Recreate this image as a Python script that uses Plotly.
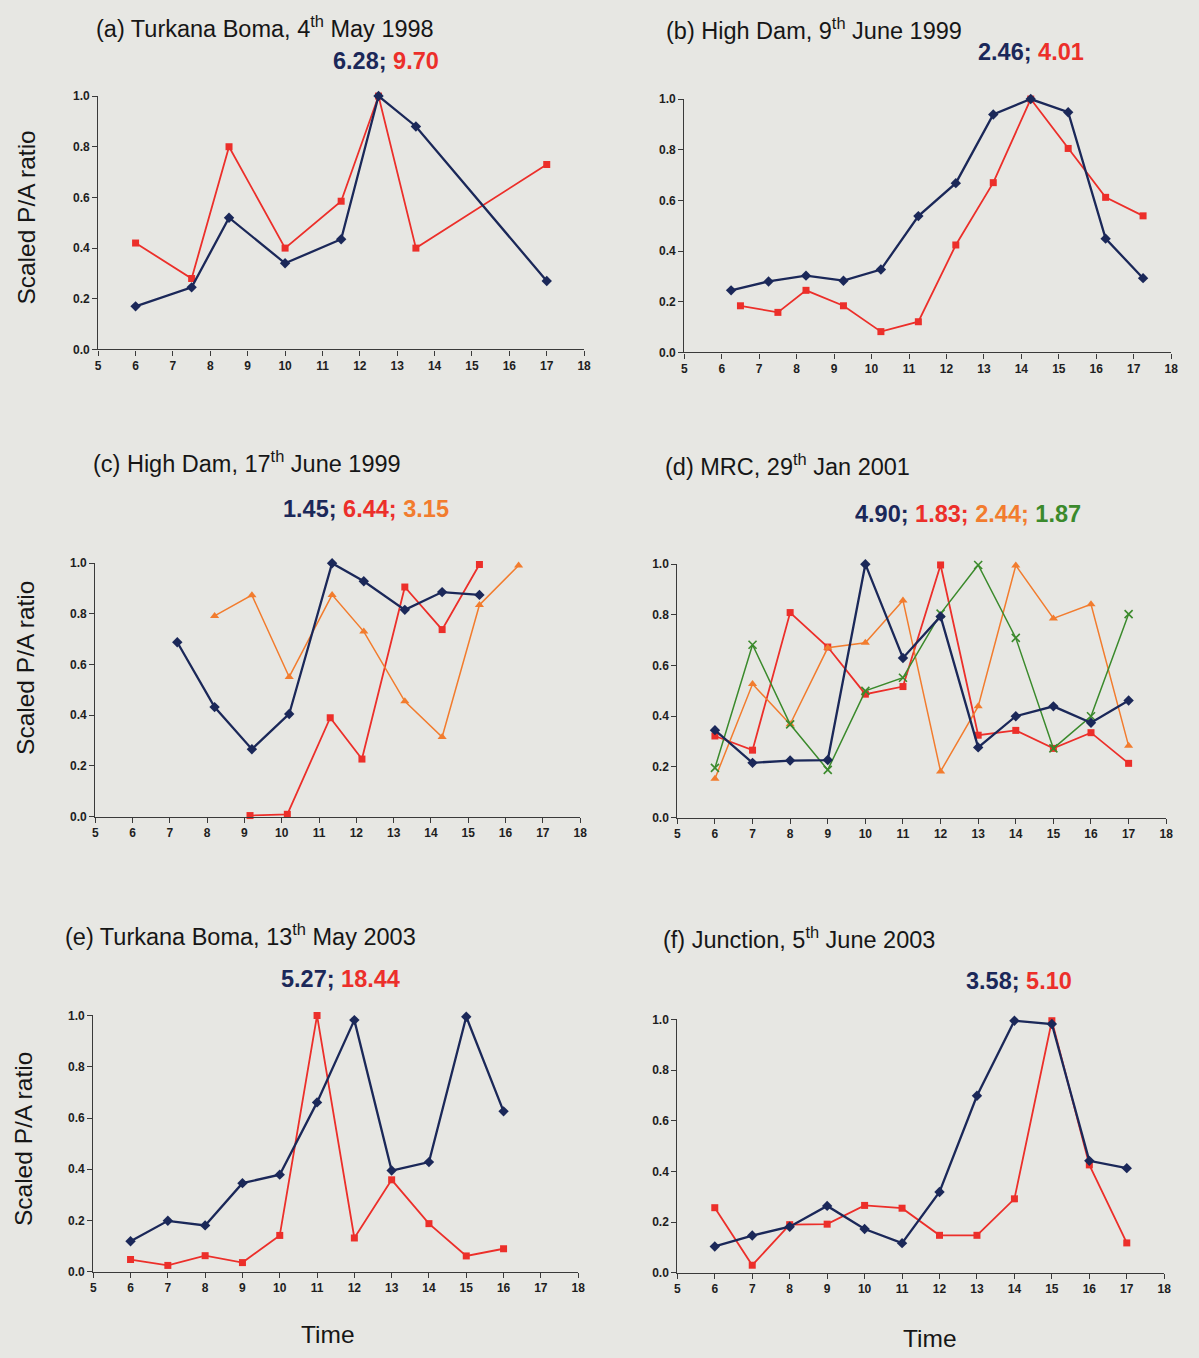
import plotly.graph_objects as go

W, H = 1199, 1358

# ---- (a) Turkana Boma, 4th May 1998 ----
a_time_blue = [6, 7.5, 8.5, 10, 11.5, 12.5, 13.5, 17]
a_blue = [0.17, 0.245, 0.52, 0.34, 0.435, 1.0, 0.88, 0.27]
a_time_red = [6, 7.5, 8.5, 10, 11.5, 12.5, 13.5, 17]
a_red = [0.42, 0.28, 0.80, 0.40, 0.585, 1.0, 0.40, 0.73]

# ---- (b) High Dam, 9th June 1999 ----
b_time_blue = [6.25, 7.25, 8.25, 9.25, 10.25, 11.25, 12.25, 13.25, 14.25, 15.25, 16.25, 17.25]
b_blue = [0.245, 0.28, 0.303, 0.283, 0.327, 0.538, 0.668, 0.939, 1.0, 0.948, 0.449, 0.293]
b_time_red = [6.5, 7.5, 8.25, 9.25, 10.25, 11.25, 12.25, 13.25, 14.25, 15.25, 16.25, 17.25]
b_red = [0.184, 0.158, 0.245, 0.184, 0.082, 0.121, 0.424, 0.67, 1.0, 0.805, 0.612, 0.539]

# ---- (c) High Dam, 17th June 1999 ----
c_time_blue = [7.2, 8.2, 9.2, 10.2, 11.35, 12.2, 13.3, 14.3, 15.3]
c_blue = [0.688, 0.432, 0.266, 0.405, 1.0, 0.929, 0.816, 0.886, 0.875]
c_time_red = [9.15, 10.15, 11.3, 12.15, 13.3, 14.3, 15.3]
c_red = [0.004, 0.009, 0.39, 0.227, 0.906, 0.738, 0.995]
c_time_orange = [8.2, 9.2, 10.2, 11.35, 12.2, 13.3, 14.3, 15.3, 16.35]
c_orange = [0.792, 0.874, 0.551, 0.875, 0.730, 0.455, 0.314, 0.835, 0.991]

# ---- (d) MRC, 29th Jan 2001 ----
d_time = [6, 7, 8, 9, 10, 11, 12, 13, 14, 15, 16, 17]
d_blue = [0.345, 0.216, 0.225, 0.227, 1.0, 0.630, 0.794, 0.277, 0.40, 0.439, 0.374, 0.462]
d_red = [0.322, 0.266, 0.809, 0.673, 0.487, 0.517, 0.997, 0.325, 0.344, 0.273, 0.335, 0.214]
d_orange = [0.153, 0.527, 0.368, 0.670, 0.690, 0.857, 0.182, 0.439, 0.995, 0.786, 0.842, 0.283]
d_green = [0.196, 0.682, 0.368, 0.188, 0.50, 0.552, 0.805, 0.997, 0.709, 0.273, 0.40, 0.803]

# ---- (e) Turkana Boma, 13th May 2003 ----
e_time = [6, 7, 8, 9, 10, 11, 12, 13, 14, 15, 16]
e_blue = [0.119, 0.199, 0.181, 0.346, 0.379, 0.661, 0.982, 0.395, 0.428, 0.995, 0.626]
e_red = [0.048, 0.025, 0.063, 0.036, 0.142, 1.0, 0.132, 0.359, 0.188, 0.062, 0.09]

# ---- (f) Junction, 5th June 2003 ----
f_time = [6, 7, 8, 9, 10, 11, 12, 13, 14, 15, 16, 17]
f_blue = [0.104, 0.147, 0.182, 0.264, 0.173, 0.117, 0.319, 0.699, 0.995, 0.982, 0.442, 0.413]
f_red = [0.257, 0.03, 0.19, 0.192, 0.266, 0.255, 0.148, 0.148, 0.292, 0.995, 0.426, 0.118]

# Panel titles and peak-ratio labels
titles = [
    "(a) Turkana Boma, 4<sup>th</sup> May 1998",
    "(b) High Dam, 9<sup>th</sup> June 1999",
    "(c) High Dam, 17<sup>th</sup> June 1999",
    "(d) MRC, 29<sup>th</sup> Jan 2001",
    "(e) Turkana Boma, 13<sup>th</sup> May 2003",
    "(f) Junction, 5<sup>th</sup> June 2003",
]
ratio_labels = [
    ["6.28", "9.70"],
    ["2.46", "4.01"],
    ["1.45", "6.44", "3.15"],
    ["4.90", "1.83", "2.44", "1.87"],
    ["5.27", "18.44"],
    ["3.58", "5.10"],
]
x_ticks = list(range(5, 19))
y_ticks = [0.0, 0.2, 0.4, 0.6, 0.8, 1.0]

BLUE = "#1b2859"
RED = "#ec2f2a"
ORANGE = "#f27c2e"
GREEN = "#3b8a2c"
BG = "#e7e7e3"
FONT = "Liberation Sans, Arial, Helvetica, sans-serif"

STYLE = {
    "blue": dict(color=BLUE, symbol="diamond", size=8, width=2.3),
    "red": dict(color=RED, symbol="square", size=7, width=1.8),
    "orange": dict(color=ORANGE, symbol="triangle-up", size=8, width=1.5),
    "green": dict(color=GREEN, symbol="x-thin", size=8, width=1.5),
}

panels = [
    dict(series=[("blue", a_time_blue, a_blue), ("red", a_time_red, a_red)],
         box=(96, 586, 90, 346), title=(92, 20), label=(386, 55), ytitle=(24, 213)),
    dict(series=[("blue", b_time_blue, b_blue), ("red", b_time_red, b_red)],
         box=(687, 1178, 93, 349), title=(667, 22), label=(1037, 45), ytitle=None),
    dict(series=[("blue", c_time_blue, c_blue), ("red", c_time_red, c_red),
                 ("orange", c_time_orange, c_orange)],
         box=(93, 582, 562, 818), title=(89, 460), label=(366, 507), ytitle=(22, 668)),
    dict(series=[("blue", d_time, d_blue), ("red", d_time, d_red),
                 ("orange", d_time, d_orange), ("green", d_time, d_green)],
         box=(680, 1173, 563, 819), title=(666, 463), label=(973, 512), ytitle=None),
    dict(series=[("blue", e_time, e_blue), ("red", e_time, e_red)],
         box=(91, 580, 1019, 1278), title=(61, 938), label=(340, 982), ytitle=(20, 1144)),
    dict(series=[("blue", f_time, f_blue), ("red", f_time, f_red)],
         box=(680, 1171, 1023, 1279), title=(664, 941), label=(1025, 984), ytitle=None),
]

label_colors = [BLUE, RED, ORANGE, GREEN]


def px(x):
    return x / W


def py(y):
    return 1 - y / H


fig = go.Figure()
annotations = []
layout_axes = {}

for i, p in enumerate(panels):
    n = i + 1
    xa = "x" if n == 1 else f"x{n}"
    ya = "y" if n == 1 else f"y{n}"
    x0, x1, y_top, y_bot = p["box"]

    # draw the red/orange/green first so the navy series sits on top where they overlap
    order = sorted(p["series"], key=lambda s: 0 if s[0] == "blue" else 1, reverse=True)
    for name, t, v in order:
        st = STYLE[name]
        marker = dict(symbol=st["symbol"], size=st["size"], color=st["color"])
        if name == "green":
            marker["line"] = dict(color=st["color"], width=1.6)
        fig.add_trace(go.Scatter(
            x=t, y=v, mode="lines+markers", xaxis=xa, yaxis=ya,
            line=dict(color=st["color"], width=st["width"]),
            marker=marker, cliponaxis=False, showlegend=False,
        ))

    axis_common = dict(showgrid=False, zeroline=False, showline=True,
                       linecolor="#3a3a3a", linewidth=1.2, ticks="outside",
                       ticklen=5, tickwidth=1.2, tickcolor="#3a3a3a",
                       tickfont=dict(family=FONT, size=12, color="#1e1e1e", weight="bold"))
    layout_axes["xaxis" if n == 1 else f"xaxis{n}"] = dict(
        axis_common, domain=[px(x0), px(x1)], range=[5, 18],
        tickmode="array", tickvals=x_ticks, anchor=ya, fixedrange=True)
    layout_axes["yaxis" if n == 1 else f"yaxis{n}"] = dict(
        axis_common, domain=[py(y_bot), py(y_top)], range=[0, 1],
        tickmode="array", tickvals=y_ticks, tickformat=".1f", anchor=xa,
        fixedrange=True)

    tx, ty = p["title"]
    annotations.append(dict(
        text=titles[i], x=px(tx), y=py(ty), xref="paper", yref="paper",
        xanchor="left", yanchor="middle", showarrow=False,
        font=dict(family=FONT, size=23.5, color="#161616")))

    lx, ly = p["label"]
    parts = [f'<span style="color:{label_colors[k]}">{val}{";" if k < len(ratio_labels[i]) - 1 else ""}</span>'
             for k, val in enumerate(ratio_labels[i])]
    annotations.append(dict(
        text="<b>" + " ".join(parts) + "</b>", x=px(lx), y=py(ly),
        xref="paper", yref="paper", xanchor="center", yanchor="middle",
        showarrow=False, font=dict(family=FONT, size=23.5, color=BLUE)))

    if p["ytitle"]:
        yx, yy = p["ytitle"]
        annotations.append(dict(
            text="Scaled P/A ratio", x=px(yx), y=py(yy), xref="paper", yref="paper",
            xanchor="center", yanchor="middle", textangle=-90, showarrow=False,
            font=dict(family=FONT, size=24.5, color="#161616")))

for tx, ty in [(328, 1341), (935, 1345)]:
    annotations.append(dict(
        text="Time", x=px(tx), y=py(ty), xref="paper", yref="paper",
        xanchor="center", yanchor="middle", showarrow=False,
        font=dict(family=FONT, size=24.5, color="#161616")))

fig.update_layout(
    width=W, height=H, margin=dict(l=0, r=0, t=0, b=0),
    paper_bgcolor=BG, plot_bgcolor=BG,
    annotations=annotations, showlegend=False,
    **layout_axes,
)

fig.write_html("out.html", config={"displayModeBar": False})
